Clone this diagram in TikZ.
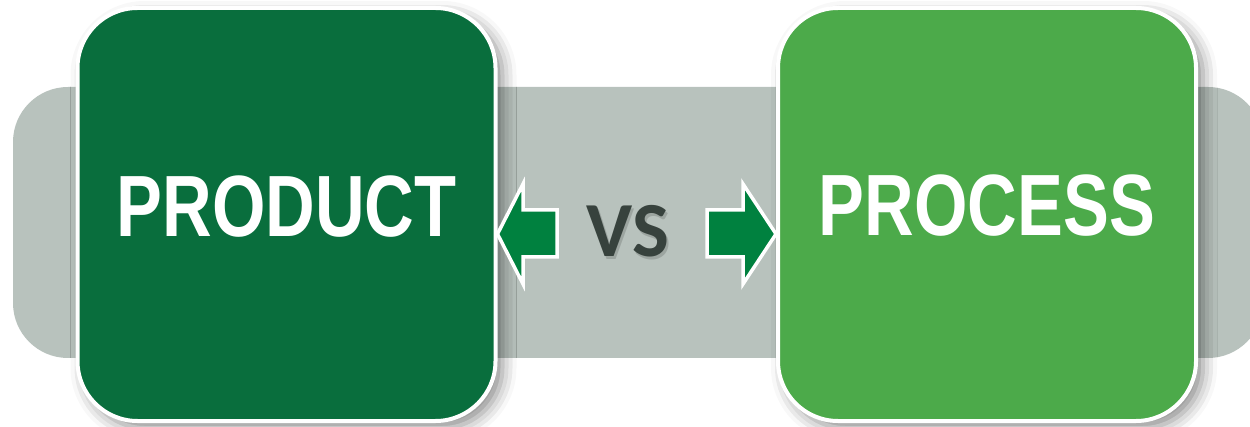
\documentclass[tikz,border=0pt]{standalone}
\usepackage{fontspec}
\usepackage{graphicx}
\usetikzlibrary{positioning, shadows.blur}
\newfontfamily\headfont{Liberation Sans}
\newfontfamily\vsfont{Carlito}
\definecolor{pine}{RGB}{9,110,61}
\definecolor{leaf}{RGB}{76,170,74}
\definecolor{sage}{RGB}{184,194,189}
\definecolor{arrowgreen}{RGB}{0,129,63}
\definecolor{charcoal}{RGB}{55,66,61}
\newcommand{\squeeze}[1]{\scalebox{0.79}[1]{#1}}

\begin{document}
\begin{tikzpicture}[
  x=1pt, y=-1pt,
  strip/.style={fill=sage, rounded corners=55pt, inner sep=0pt,
                minimum width=1250pt, minimum height=271pt},
  card/.style={draw=white, line width=4pt, rounded corners=60pt, inner sep=0pt,
               minimum width=418pt, minimum height=413pt,
               blur shadow={shadow xshift=7pt, shadow yshift=-7pt,
                            shadow blur radius=14pt, shadow opacity=45}},
  title/.style={text=white, anchor=base, inner sep=0pt,
                font=\headfont\bfseries\fontsize{87}{90}\selectfont},
  vs/.style={text=charcoal, anchor=base, inner sep=0pt,
             font=\vsfont\bfseries\fontsize{78}{80}\selectfont},
  pointer/.style={draw=white, line width=3.5pt, fill=arrowgreen, line join=miter}]

  \useasboundingbox (0,0) rectangle (1250,427);
  \clip (0,0) rectangle (1250,427);

  % --- grey band behind both cards
  \node[strip] (band) at (638,222.5) {};

  % --- the two cards
  \node[card, fill=pine] (prod) at (286.5,214.5) {};
  \node[card, fill=leaf] (proc) at (987,214.5) {};
  \node[title] (prodtext) at (prod |- 0,237) {\squeeze{PRODUCT}};
  \node[title] (proctext) at (proc |- 0,236) {\squeeze{PROCESS}};

  % --- vs, with a faint drop
  \node[vs, text=black, opacity=.15] (vsdrop) at (630,259.5) {VS};
  \node[vs] (vs) at (628,257) {VS};

  % --- block arrows, tips on the cards
  \draw[pointer] (prod.east |- 0,234) -- (523,184) -- (523,210) -- (557,210)
    -- (557,257) -- (523,257) -- (523,284) -- cycle;
  \draw[pointer] (proc.west |- 0,234) -- (743,184) -- (743,210) -- (707,210)
    -- (707,257) -- (743,257) -- (743,284) -- cycle;
\end{tikzpicture}
\end{document}
